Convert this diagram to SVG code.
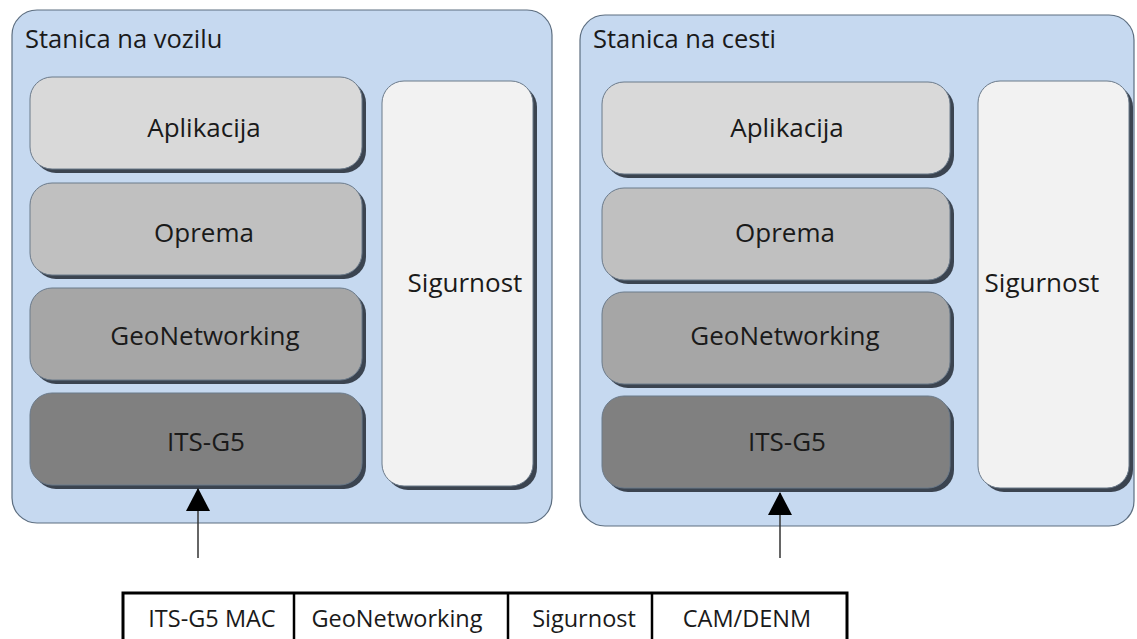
<svg xmlns="http://www.w3.org/2000/svg" width="1137" height="639" viewBox="0 0 1137 639">
<style>
text{font-family:"Open Sans","Liberation Sans",sans-serif;fill:#1a1a1a}
.cont{fill:#c6d9f0;stroke:#5d6e80;stroke-width:1.2}
.title{font-size:25.5px}
.lbl{font-size:26px;text-anchor:middle}
.tbl{font-size:23.5px;text-anchor:middle}
.sh{fill:#3b4450}
.box{stroke:#6b7a8a;stroke-width:1}
.app{fill:#d9d9d9}
.opr{fill:#c0c0c0}
.geo{fill:#a6a6a6}
.its{fill:#808080}
.sig{fill:#f2f2f2}
.conn{stroke:#333;stroke-width:1.5;fill:none}
</style>
<defs>
<marker id="ah" viewBox="0 0 23 24" refX="22" refY="12" markerWidth="23" markerHeight="24" markerUnits="userSpaceOnUse" orient="auto">
<path d="M0,0 L23,12 L0,24 Z" fill="#000"/>
</marker>
</defs>
<rect width="1137" height="639" fill="#fff"/>

<g id="vehicle-station">
<rect class="cont" x="12" y="10" width="540" height="513" rx="25"/>
<text class="title" x="25" y="48">Stanica na vozilu</text>
</g>
<g id="v-aplikacija">
<rect class="sh" x="34" y="81" width="332" height="92" rx="22"/>
<rect class="box app" x="30" y="77" width="332" height="92" rx="22"/>
<text class="lbl" x="204" y="137">Aplikacija</text>
</g>
<g id="v-oprema">
<rect class="sh" x="34" y="187" width="332" height="92" rx="22"/>
<rect class="box opr" x="30" y="183" width="332" height="92" rx="22"/>
<text class="lbl" x="204" y="242">Oprema</text>
</g>
<g id="v-geonetworking">
<rect class="sh" x="34" y="292" width="332" height="92" rx="22"/>
<rect class="box geo" x="30" y="288" width="332" height="92" rx="22"/>
<text class="lbl" x="205" y="345">GeoNetworking</text>
</g>
<g id="v-itsg5">
<rect class="sh" x="34" y="397" width="332" height="92" rx="22"/>
<rect class="box its" x="30" y="393" width="332" height="92" rx="22"/>
<text class="lbl" x="206" y="451">ITS-G5</text>
</g>
<g id="v-sigurnost">
<rect class="sh" x="386" y="85" width="151" height="405" rx="22"/>
<rect class="box sig" x="382" y="81" width="151" height="405" rx="22"/>
<text class="lbl" x="465" y="292">Sigurnost</text>
</g>

<g id="road-station">
<rect class="cont" x="580" y="15" width="554" height="511" rx="25"/>
<text class="title" x="593" y="48">Stanica na cesti</text>
</g>
<g id="r-aplikacija">
<rect class="sh" x="606" y="86" width="348" height="92" rx="22"/>
<rect class="box app" x="602" y="82" width="348" height="92" rx="22"/>
<text class="lbl" x="787" y="137">Aplikacija</text>
</g>
<g id="r-oprema">
<rect class="sh" x="606" y="192" width="348" height="92" rx="22"/>
<rect class="box opr" x="602" y="188" width="348" height="92" rx="22"/>
<text class="lbl" x="785" y="242">Oprema</text>
</g>
<g id="r-geonetworking">
<rect class="sh" x="606" y="296" width="348" height="92" rx="22"/>
<rect class="box geo" x="602" y="292" width="348" height="92" rx="22"/>
<text class="lbl" x="785" y="345">GeoNetworking</text>
</g>
<g id="r-itsg5">
<rect class="sh" x="606" y="400" width="348" height="92" rx="22"/>
<rect class="box its" x="602" y="396" width="348" height="92" rx="22"/>
<text class="lbl" x="787" y="451">ITS-G5</text>
</g>
<g id="r-sigurnost">
<rect class="sh" x="982" y="85" width="151" height="407" rx="22"/>
<rect class="box sig" x="978" y="81" width="151" height="407" rx="22"/>
<text class="lbl" x="1042" y="292">Sigurnost</text>
</g>

<g id="connectors">
<line class="conn" x1="198" y1="558" x2="198" y2="489" marker-end="url(#ah)"/>
<line class="conn" x1="780" y1="558" x2="780" y2="493" marker-end="url(#ah)"/>
</g>

<g id="message-table">
<rect x="123" y="593" width="724" height="60" fill="#fff" stroke="#000" stroke-width="3"/>
<line x1="294" y1="593" x2="294" y2="639" stroke="#000" stroke-width="2.5"/>
<line x1="508" y1="593" x2="508" y2="639" stroke="#000" stroke-width="2.5"/>
<line x1="652" y1="593" x2="652" y2="639" stroke="#000" stroke-width="2.5"/>
<text class="tbl" x="212" y="627">ITS-G5 MAC</text>
<text class="tbl" x="397" y="627">GeoNetworking</text>
<text class="tbl" x="584" y="627">Sigurnost</text>
<text class="tbl" x="747" y="627">CAM/DENM</text>
</g>
</svg>
